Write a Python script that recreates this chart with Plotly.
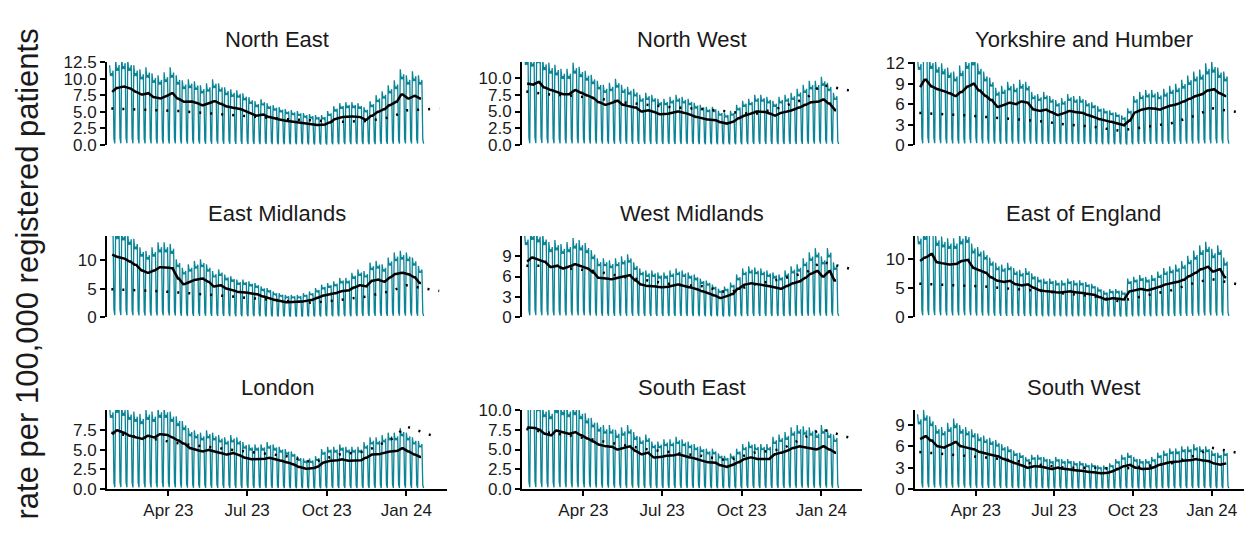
import pandas as pd
import plotly.graph_objects as go
from plotly.subplots import make_subplots

regions = ["North East", "North West", "Yorkshire and Humber",
           "East Midlands", "West Midlands", "East of England",
           "London", "South East", "South West"]

# weekly 7-day average rate, weeks starting Mon 2023-01-23
week_start = "2023-01-23"
weekly = {
    "North East": [8.0,8.6,8.8,8.6,8.0,7.6,7.8,7.2,7.0,7.3,7.8,7.0,6.5,6.6,6.4,6.0,6.2,6.6,6.2,5.8,5.6,5.5,5.2,4.8,4.4,4.6,4.2,4.0,3.8,3.6,3.5,3.4,3.2,3.1,3.0,3.0,3.4,3.9,4.2,4.3,4.3,4.2,3.8,4.4,5.0,5.4,6.0,6.5,7.6,7.0,7.4,7.0],
    "North West": [9.2,9.0,9.4,8.6,8.2,8.0,7.6,7.6,8.2,7.8,7.4,7.0,6.4,6.0,6.2,6.6,6.0,5.8,5.6,5.0,5.2,5.0,4.6,4.6,4.8,5.0,4.8,4.6,4.2,4.0,3.8,3.8,3.4,3.2,3.4,4.0,4.4,4.6,5.0,5.0,4.8,4.4,4.8,5.0,5.2,5.6,6.0,6.4,6.4,6.8,6.2,5.2],
    "Yorkshire and Humber": [8.5,9.6,8.6,8.2,8.0,7.6,7.2,7.8,8.6,9.0,8.0,7.2,6.6,5.6,5.8,6.2,6.0,6.4,6.2,5.2,5.0,5.2,4.8,4.4,4.6,5.0,4.8,4.8,4.4,4.2,3.8,3.6,3.4,3.2,2.9,3.6,4.8,5.2,5.4,5.4,5.2,5.5,5.8,6.0,6.4,6.8,7.2,7.4,8.0,8.2,7.6,7.2],
    "East Midlands": [11.0,10.6,10.4,9.8,9.2,8.2,7.8,8.2,8.8,8.8,8.6,6.8,5.8,6.2,6.6,6.8,6.2,5.4,5.6,5.0,4.8,4.4,4.4,4.2,4.0,3.6,3.4,3.0,2.8,2.6,2.6,2.6,2.8,3.0,3.4,3.8,4.0,4.2,4.6,4.6,5.2,5.6,5.4,6.4,6.6,6.2,7.0,7.6,7.8,7.6,7.0,6.0],
    "West Midlands": [8.2,8.8,8.5,8.2,7.4,7.6,7.2,7.4,7.8,7.6,7.3,6.6,5.8,5.8,5.6,5.8,6.0,6.2,5.4,4.8,4.6,4.6,4.4,4.4,4.6,4.8,4.6,4.4,4.2,3.8,3.6,3.2,2.8,3.0,3.4,4.2,4.8,5.0,4.9,4.8,4.6,4.4,4.2,4.6,5.0,5.2,5.8,6.4,6.8,6.0,6.8,5.4],
    "East of England": [9.6,10.2,10.8,9.4,9.2,9.0,9.0,9.6,9.8,8.4,8.0,7.6,6.8,6.2,6.0,6.2,5.6,5.4,5.6,5.0,4.6,4.4,4.4,4.2,4.2,4.4,4.2,4.2,4.0,3.8,3.4,3.0,3.2,3.2,3.0,4.4,4.6,4.8,4.6,4.8,5.2,5.6,5.8,6.0,6.4,7.0,7.6,8.2,8.6,7.8,8.2,6.8],
    "London": [7.0,7.5,7.2,6.8,6.6,6.4,6.8,6.6,7.0,7.0,6.6,6.2,5.8,5.2,5.0,4.8,5.0,4.8,4.6,4.4,4.6,4.4,4.0,3.8,3.8,3.8,4.0,3.8,3.6,3.4,3.2,2.8,2.6,2.6,2.8,3.4,3.6,3.6,3.8,3.6,3.6,3.6,4.0,4.4,4.4,4.6,4.8,4.8,5.2,4.8,4.4,4.1],
    "South East": [7.8,7.8,7.6,7.0,6.8,7.4,7.2,7.0,7.2,6.8,6.4,6.0,5.6,5.4,5.4,5.0,5.2,5.4,4.8,4.4,4.6,4.0,4.0,4.2,4.2,4.4,4.2,4.0,3.8,3.6,3.4,3.4,3.0,2.8,3.0,3.4,3.8,4.0,3.8,3.8,3.8,4.4,4.6,4.8,5.2,5.4,5.3,5.2,5.0,5.4,5.0,4.6],
    "South West": [7.0,7.4,6.8,6.0,5.8,6.2,6.6,6.0,5.8,5.6,5.2,5.0,4.8,4.6,4.2,4.0,3.6,3.4,3.0,3.2,3.2,3.0,2.8,3.0,2.8,2.8,2.6,2.6,2.4,2.4,2.2,2.2,2.4,2.8,3.2,3.4,3.0,2.8,2.8,3.0,3.4,3.6,3.8,3.8,4.0,4.0,4.2,4.0,4.0,3.6,3.4,3.6],
}
# day-of-week factor, Mon..Sun
dow_factor = [1.5, 1.3, 1.35, 1.3, 1.4, 0.12, 0.03]

# comparison (dotted) values
base_dates = ["2023-01-25","2023-02-15","2023-03-15","2023-04-15","2023-05-15","2023-06-15",
              "2023-07-15","2023-08-15","2023-09-15","2023-10-15","2023-11-15","2023-12-15",
              "2024-01-01","2024-02-08"]
baseline = {
    "North East": [5.5,5.4,5.3,5.1,4.8,4.5,4.1,3.9,3.7,3.5,3.6,4.2,5.2,5.5],
    "North West": [8.0,7.6,7.4,7.0,6.4,6.0,5.6,5.4,5.0,4.6,5.6,7.0,9.0,8.0],
    "Yorkshire and Humber": [4.7,4.6,4.4,4.1,3.8,3.5,3.0,2.7,2.1,2.6,3.2,4.4,5.4,4.7],
    "East Midlands": [4.9,4.8,4.6,4.3,4.0,3.6,3.2,2.8,2.5,3.0,3.6,4.6,5.6,4.6],
    "West Midlands": [7.6,7.6,7.2,6.8,6.0,5.4,4.8,4.6,3.6,4.8,5.6,6.6,8.2,7.0],
    "East of England": [5.7,5.6,5.4,5.2,4.8,4.5,4.0,3.6,2.7,3.6,4.6,6.0,6.5,5.4],
    "London": [7.2,6.8,6.4,5.8,5.4,5.0,4.6,4.2,3.4,4.4,4.8,6.4,8.0,6.5],
    "South East": [7.6,7.2,6.8,6.2,5.6,5.0,4.6,4.2,3.6,4.6,5.0,6.6,7.6,6.3],
    "South West": [5.2,5.0,4.8,4.4,4.0,3.4,3.0,3.0,2.8,3.2,3.6,4.8,5.8,4.9],
}

y_ranges = [[0, 12.5], [0, 12.4], [0, 12.2], [0, 14.3], [0, 12], [0, 13.9], [0, 10.1], [0, 10], [0, 11.1]]
y_ticks = [[0, 2.5, 5, 7.5, 10, 12.5], [0, 2.5, 5, 7.5, 10], [0, 3, 6, 9, 12],
           [0, 5, 10], [0, 3, 6, 9], [0, 5, 10],
           [0, 2.5, 5, 7.5], [0, 2.5, 5, 7.5, 10], [0, 3, 6, 9]]
y_fmt = [".1f", ".1f", "d", "d", "d", "d", ".1f", ".1f", "d"]

W, H = 1252, 538
off = 6  # page body margin
col_px = [(105, 445), (520, 860), (913, 1250)]
row_px = [(62, 145), (236, 317), (410, 489)]

fig = make_subplots(rows=3, cols=3)
teal = "#0b8596"

for i, reg in enumerate(regions):
    r, c = i // 3 + 1, i % 3 + 1
    days = pd.date_range(week_start, periods=len(weekly[reg]) * 7, freq="D")
    vals = [weekly[reg][k // 7] * dow_factor[k % 7] for k in range(len(days))]
    s = pd.Series(vals, index=days)
    roll = s.rolling(7, center=True).mean()
    fig.add_trace(go.Scatter(x=days, y=s, mode="lines", line=dict(color=teal, width=1.3),
                             showlegend=False), row=r, col=c)
    fig.add_trace(go.Scatter(x=pd.to_datetime(base_dates), y=baseline[reg], mode="lines",
                             line=dict(color="black", width=2.5, dash="2px,9px"),
                             showlegend=False), row=r, col=c)
    fig.add_trace(go.Scatter(x=days, y=roll, mode="lines", line=dict(color="black", width=2.5),
                             showlegend=False), row=r, col=c)

    x0, x1 = col_px[c - 1][0] - off, col_px[c - 1][1] - off
    y0, y1 = row_px[r - 1][0] - 8, row_px[r - 1][1] - 8
    fig.update_xaxes(domain=[x0 / W, x1 / W], range=["2023-01-20", "2024-02-17"], automargin=False,
                     tickvals=["2023-04-01", "2023-07-01", "2023-10-01", "2024-01-01"],
                     ticktext=["Apr 23", "Jul 23", "Oct 23", "Jan 24"],
                     showgrid=False, zeroline=False,
                     showline=(r == 3), linecolor="black", linewidth=2,
                     ticks="outside" if r == 3 else "", ticklen=5, tickwidth=2, tickcolor="black",
                     showticklabels=(r == 3), row=r, col=c)
    fig.update_yaxes(domain=[1 - y1 / H, 1 - y0 / H], range=y_ranges[i], tickvals=y_ticks[i],
                     tickformat=y_fmt[i], automargin=False,
                     showgrid=False, zeroline=False, showline=True, linecolor="black", linewidth=2,
                     ticks="outside", ticklen=5, tickwidth=2, tickcolor="black", row=r, col=c)
    fig.add_annotation(text=reg, x=(x0 + x1) / 2 / W, y=1 - (y0 - 8) / H, xref="paper", yref="paper",
                       xanchor="center", yanchor="bottom", showarrow=False,
                       font=dict(size=22, color="#1a1a1a"))

fig.add_annotation(text="rate per 100,000 registered patients", textangle=-90,
                   x=0, y=1 - 266 / H, xref="paper", yref="paper", xanchor="left",
                   yanchor="middle", showarrow=False, font=dict(size=31, color="#1a1a1a"))

fig.update_layout(width=W, height=H, margin=dict(l=0, r=0, t=0, b=0),
                  plot_bgcolor="white", paper_bgcolor="white",
                  font=dict(family="Liberation Sans, Arial", size=17, color="#1a1a1a"))

fig.write_html("out.html")
